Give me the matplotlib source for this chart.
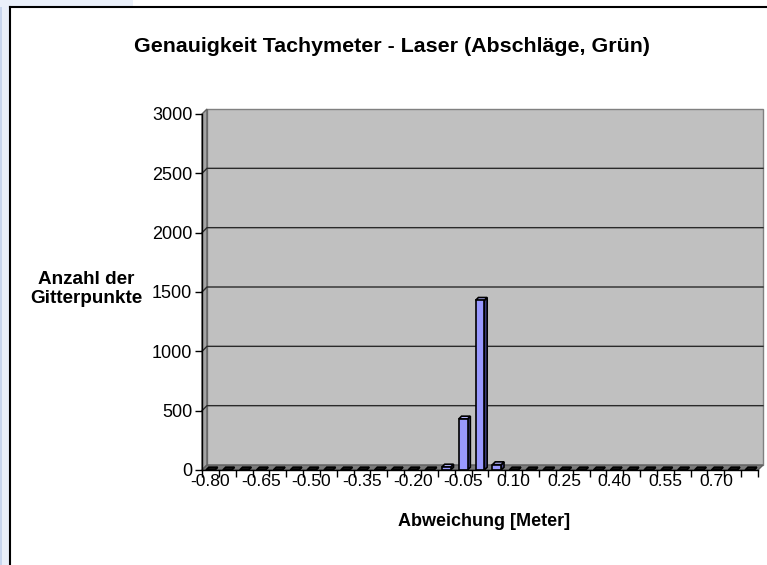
import numpy as np
import matplotlib.pyplot as plt
from matplotlib.patches import Rectangle, Polygon

plt.rcParams['font.family'] = ['Liberation Sans', 'DejaVu Sans']

# Abweichung in Metern (Klassenmitten) und Anzahl der Gitterpunkte je Klasse
abweichung = [-0.80, -0.75, -0.70, -0.65, -0.60, -0.55, -0.50, -0.45, -0.40,
              -0.35, -0.30, -0.25, -0.20, -0.15, -0.10, -0.05, 0.00, 0.05,
              0.10, 0.15, 0.20, 0.25, 0.30, 0.35, 0.40, 0.45, 0.50, 0.55,
              0.60, 0.65, 0.70, 0.75, 0.80]
anzahl = [0, 0, 0, 0, 0, 0, 0, 0, 0,
          0, 0, 0, 0, 0, 25, 430, 1430, 45,
          0, 0, 0, 0, 0, 0, 0, 0, 0, 0,
          0, 0, 0, 0, 0]
yticks = [0, 500, 1000, 1500, 2000, 2500, 3000]

W, H = 767, 565
fig = plt.figure(figsize=(W / 100, H / 100), dpi=100)

# hintergrund / rahmen wie im excel-fenster
fig.patches.append(Rectangle((0, 0), 9 / W, 1, transform=fig.transFigure,
                             facecolor='#eaf0fa', edgecolor='none', zorder=0))
fig.patches.append(Rectangle((0, 0), 2 / W, 1, transform=fig.transFigure,
                             facecolor='#c8d6ee', edgecolor='none', zorder=0))
fig.patches.append(Rectangle((0, 1 - 7 / H), 133 / W, 7 / H, transform=fig.transFigure,
                             facecolor='#eaf0fa', edgecolor='none', zorder=0))
fig.lines.append(plt.Line2D([9.5 / W, 9.5 / W], [0, 1 - 7 / H], transform=fig.transFigure,
                            color='black', lw=1.5))
fig.lines.append(plt.Line2D([9.5 / W, 1], [1 - 7 / H, 1 - 7 / H], transform=fig.transFigure,
                            color='black', lw=1.5))

left, right, bottom, top = 202, 758, 470, 114
ax = fig.add_axes([left / W, 1 - bottom / H, (right - left) / W, (bottom - top) / H])
ax.set_facecolor('none')

n = len(abweichung)
x = np.arange(n)
x0, x1 = -0.5, n - 0.5
ymax = 3000
ax.set_xlim(x0, x1)
ax.set_ylim(0, ymax)

# pixel -> dateneinheiten
ux = (x1 - x0) / (right - left)
uy = ymax / (bottom - top)
Dx, Dy = 5 * ux, 5 * uy          # tiefe der waende
dx, dy = 2.8 * ux, 2.8 * uy      # tiefe der saeulen

wall = dict(clip_on=False, zorder=0)
ax.add_patch(Polygon([(x0 + Dx, Dy), (x1 + Dx, Dy), (x1 + Dx, ymax + Dy), (x0 + Dx, ymax + Dy)],
                     facecolor='#c0c0c0', edgecolor='#808080', lw=1, **wall))
ax.add_patch(Polygon([(x0, 0), (x0 + Dx, Dy), (x0 + Dx, ymax + Dy), (x0, ymax)],
                     facecolor='#a4a4a4', edgecolor='#606060', lw=1, **wall))
ax.add_patch(Polygon([(x0, 0), (x1, 0), (x1 + Dx, Dy), (x0 + Dx, Dy)],
                     facecolor='#7a7a7a', edgecolor='#606060', lw=1, **wall))
for v in yticks[1:-1]:
    ax.plot([x0, x0 + Dx, x1 + Dx], [v, v + Dy, v + Dy], color='#2a2a2a', lw=1,
            clip_on=False, zorder=1)

# 3d-saeulen: vorderseite, deckel, rechte seite
w = 0.26
for xi, h in zip(x, anzahl):
    top_face = [(xi - w, h), (xi + w, h), (xi + w + dx, h + dy), (xi - w + dx, h + dy)]
    side_face = [(xi + w, 0), (xi + w + dx, dy), (xi + w + dx, h + dy), (xi + w, h)]
    ax.add_patch(Polygon(side_face, facecolor='#4a4a96', edgecolor='black', lw=1.2,
                         clip_on=False, zorder=3))
    ax.add_patch(Polygon(top_face, facecolor='#b4b4ff' if h > 0 else '#101010',
                         edgecolor='black', lw=1.2, clip_on=False, zorder=3))
ax.bar(x, anzahl, width=2 * w, color='#9999ff', edgecolor='black', linewidth=1.2, zorder=4)

for s in ['top', 'right']:
    ax.spines[s].set_visible(False)
for s in ['left', 'bottom']:
    ax.spines[s].set_color('black')
    ax.spines[s].set_linewidth(1)
    ax.spines[s].set_zorder(5)

ax.set_yticks(yticks)
ax.tick_params(axis='y', length=5, width=1, direction='out', labelsize=13, pad=2)
ax.set_xticks(np.arange(x0, x1 + 0.01, 1))
ax.set_xticklabels([])
ax.set_xticks(x[::3], minor=True)
ax.set_xticklabels([f'{v:.2f}' for v in abweichung[::3]], minor=True)
ax.tick_params(axis='x', which='major', length=5, width=1, direction='out')
ax.tick_params(axis='x', which='minor', length=0, labelsize=12.6, pad=3)

fig.text(392 / W, 1 - 47 / H, 'Genauigkeit Tachymeter - Laser (Abschläge, Grün)',
         ha='center', va='center', fontsize=15.4, fontweight='bold')
fig.text(484 / W, 1 - 522 / H, 'Abweichung [Meter]', ha='center', va='center',
         fontsize=13, fontweight='bold')
fig.text(86 / W, 1 - 289 / H, 'Anzahl der\nGitterpunkte', ha='center', va='center',
         fontsize=13.6, fontweight='bold', linespacing=1.2)

fig.savefig('out.png', dpi=100)
